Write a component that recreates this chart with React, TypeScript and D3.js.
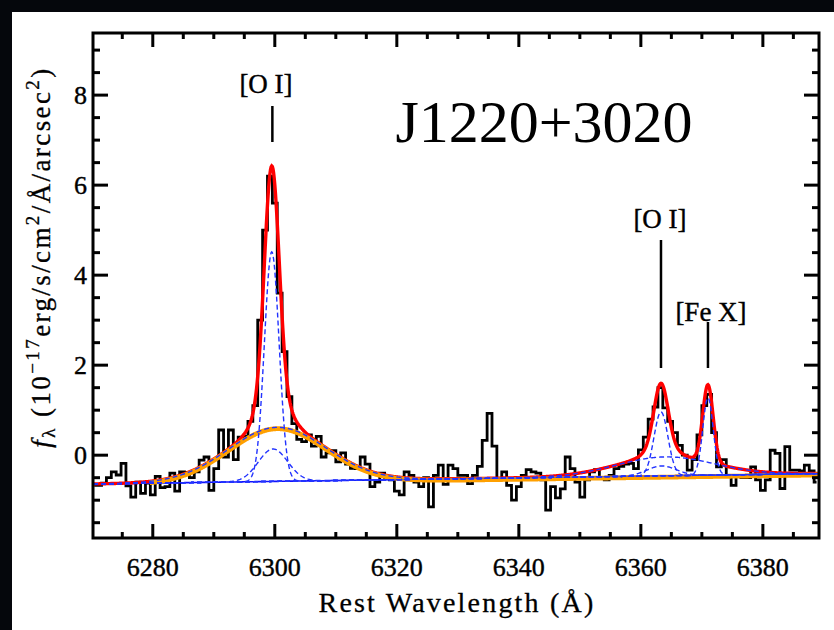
import * as d3 from "d3";
import React from "react";

// observed spectrum, 0.8 A bins starting at 6270.4 A (bin centres)
const waveStart = 6270.4;
const waveStep = 0.8;
const flux = [
  -0.67, -0.67, -0.62, -0.5, -0.37, -0.44, -0.18, -0.68, -0.93, -0.6,
  -0.85, -0.62, -0.88, -0.47, -0.72, -0.7, -0.4, -0.8, -0.37, -0.38,
  -0.5, -0.37, -0.11, -0.04, -0.78, -0.3, 0.56, -0.04, 0.56, -0.1,
  0.4, 0.42, 0.75, 1.1, 3.0, 5.0, 6.2, 5.6, 3.6, 2.3,
  1.3, 0.7, 0.35, 0.3, 0.45, 0.2, 0.42, -0.04, 0.05, 0.1,
  -0.15, 0.05, -0.2, -0.29, -0.3, -0.04, -0.2, -0.7, -0.6, -0.4,
  -0.52, -0.55, -0.8, -0.88, -0.37, -0.45, -0.6, -0.7, -0.5, -1.15,
  -0.45, -0.22, -0.65, -0.22, -0.3, -0.45, -0.45, -0.63, -0.45, -0.25,
  0.33, 0.93, 0.2, -0.52, -0.37, -0.67, -1.0, -0.7, -0.45, -0.32,
  -0.37, -0.4, -0.55, -1.22, -0.7, -0.95, -0.75, -0.04, -0.3, -0.6,
  -0.93, -0.55, -0.37, -0.32, -0.5, -0.55, -0.45, -0.3, -0.25, -0.2,
  -0.18, -0.3, 0.12, 0.4, 0.8, 1.07, 1.5, 1.05, 0.75, 0.5,
  0.22, 0.0, -0.33, -0.1, 0.45, 1.1, 1.35, 0.5, -0.26, -0.1,
  -0.45, -0.67, -0.45, -0.5, -0.5, -0.26, -0.55, -0.78, -0.55, 0.11,
  0.04, -0.74, 0.19, -0.33, -0.33, -0.35, -0.22, -0.35, -0.6,
];

// linear continuum (wavelength, flux) at both ends
const contWave = [6270, 6389];
const contFlux = [-0.64, -0.41];

// gaussian fit components
const compNames = ["OI6300n", "OI6300i", "OI6300b", "OI6363n", "OI6363i", "OI6363b", "FeX"];
const compCenters = [6299.5, 6299.7, 6300.4, 6363.3, 6363.4, 6364.0, 6371.0];
const compAmps = [5.1, 0.72, 1.2, 1.42, 0.22, 0.42, 1.72];
const compSigmas = [1.2, 2.4, 8.0, 1.15, 2.4, 8.0, 0.85];

const xTicks = [6280, 6300, 6320, 6340, 6360, 6380];
const yTicks = [0, 2, 4, 6, 8];

const lineLabels = [
  { text: "[O I]", wave: 6299.6, tx: 266, ty: 93, y1: 106, y2: 142 },
  { text: "[O I]", wave: 6363.3, tx: 660, ty: 228, y1: 240, y2: 368 },
  { text: "[Fe X]", wave: 6371.0, tx: 711, ty: 321, y1: 322, y2: 368 },
];

const W = 834;
const H = 630;
const left = 93, right = 819, top = 33, bottom = 538;

const x = d3.scaleLinear().domain([6270.2, 6389.2]).range([left, right]);
const y = d3.scaleLinear().domain([-1.84, 9.38]).range([bottom, top]);

const cont = d3.scaleLinear().domain(contWave).range(contFlux);
const gauss = (i: number, w: number) =>
  compAmps[i] * Math.exp(-((w - compCenters[i]) ** 2) / (2 * compSigmas[i] ** 2));

const grid = d3.range(6270.2, 6389.21, 0.1);

const serif = "Liberation Serif, Times New Roman, DejaVu Serif, serif";

const App = () => {
  const obs = flux.map((f, i) => [waveStart + i * waveStep, f] as [number, number]);
  const step = d3.line<[number, number]>().x(d => x(d[0])).y(d => y(d[1])).curve(d3.curveStep);

  const curve = (fn: (w: number) => number, ws = grid) =>
    d3.line<number>().x(w => x(w)).y(w => y(fn(w)))(ws) || "";

  const totalPath = curve(w => cont(w) + compNames.reduce((s, _, i) => s + gauss(i, w), 0));
  const contPath = curve(w => cont(w));
  const broadGrid = grid.filter(w => w >= 6279.5);
  const orangePath = curve(w => cont(w) - 0.03 + gauss(2, w), broadGrid);
  const compPaths = compNames.map((_, i) => curve(w => cont(w) + gauss(i, w)));

  const xMinor = d3.range(6275, 6389, 5).filter(v => !xTicks.includes(v));
  const yMinor = d3.range(-1.5, 9.01, 0.5).filter(v => !yTicks.includes(v));

  return (
    <svg width={W} height={H} style={{ position: "absolute", left: 0, top: 0 }}>
      <rect width={W} height={H} fill="#05070c" />
      <rect x={12} y={12} width={W - 12} height={H - 12} fill="#fff" />
      <defs>
        <clipPath id="plot">
          <rect x={left} y={top} width={right - left} height={bottom - top} />
        </clipPath>
      </defs>

      <g clipPath="url(#plot)" fill="none">
        <path d={step(obs) || ""} stroke="#000" strokeWidth={2.8} />
        <path d={contPath} stroke="#1010ff" strokeWidth={1.6} />
        <path d={totalPath} stroke="#ff0000" strokeWidth={3.4} />
        <path d={orangePath} stroke="#ffa000" strokeWidth={4.8} />
        {compPaths.map((p, i) => (
          <path key={compNames[i]} d={p} stroke="#2233ff" strokeWidth={1.4} strokeDasharray="5,3" />
        ))}
      </g>

      {/* frame */}
      <rect x={left} y={top} width={right - left} height={bottom - top} fill="none" stroke="#000" strokeWidth={3} />

      {/* ticks */}
      <g stroke="#000" strokeWidth={3}>
        {xTicks.map(v => (
          <g key={"xt" + v}>
            <line x1={x(v)} x2={x(v)} y1={bottom} y2={bottom - 14} />
            <line x1={x(v)} x2={x(v)} y1={top} y2={top + 14} />
          </g>
        ))}
        {xMinor.map(v => (
          <g key={"xm" + v}>
            <line x1={x(v)} x2={x(v)} y1={bottom} y2={bottom - 6} />
            <line x1={x(v)} x2={x(v)} y1={top} y2={top + 6} />
          </g>
        ))}
        {yTicks.map(v => (
          <g key={"yt" + v}>
            <line x1={left} x2={left + 15} y1={y(v)} y2={y(v)} />
            <line x1={right} x2={right - 15} y1={y(v)} y2={y(v)} />
          </g>
        ))}
        {yMinor.map(v => (
          <g key={"ym" + v}>
            <line x1={left} x2={left + 7} y1={y(v)} y2={y(v)} />
            <line x1={right} x2={right - 7} y1={y(v)} y2={y(v)} />
          </g>
        ))}
      </g>

      {/* tick labels */}
      <g style={{ fontFamily: serif }} fontSize={26} fill="#000" stroke="#000" strokeWidth={0.4}>
        {xTicks.map(v => (
          <text key={"xl" + v} x={x(v)} y={576} textAnchor="middle">{v}</text>
        ))}
        {yTicks.map(v => (
          <text key={"yl" + v} x={87} y={y(v) + 9} textAnchor="end">{v}</text>
        ))}
      </g>

      {/* axis titles */}
      <text x={457} y={612} textAnchor="middle" style={{ fontFamily: serif, letterSpacing: "2.2px" }}
        fontSize={28} stroke="#000" strokeWidth={0.3}>
        Rest Wavelength (Å)
      </text>
      <text transform="translate(50,257) rotate(-90)" textAnchor="middle"
        style={{ fontFamily: serif, letterSpacing: "2.4px" }}
        fontSize={27} stroke="#000" strokeWidth={0.3}>
        <tspan fontStyle="italic">f</tspan>
        <tspan fontSize={19} dy={5}>λ</tspan>
        <tspan dy={-5}> (10</tspan>
        <tspan fontSize={19} dy={-11}>−17</tspan>
        <tspan dy={11}>erg/s/cm</tspan>
        <tspan fontSize={19} dy={-11}>2</tspan>
        <tspan dy={11}>/Å/arcsec</tspan>
        <tspan fontSize={19} dy={-11}>2</tspan>
        <tspan dy={11}>)</tspan>
      </text>

      {/* object name */}
      <text x={544} y={142} textAnchor="middle" style={{ fontFamily: serif }} fontSize={60}>J1220+3020</text>

      {/* line identifications */}
      {lineLabels.map((l, i) => (
        <g key={"ll" + i}>
          <line x1={x(l.wave)} x2={x(l.wave)} y1={l.y1} y2={l.y2} stroke="#000" strokeWidth={2.5} />
          <text x={l.tx} y={l.ty} textAnchor="middle" style={{ fontFamily: serif }} fontSize={27}
            stroke="#000" strokeWidth={0.4}>{l.text}</text>
        </g>
      ))}
    </svg>
  );
};

export default App;
